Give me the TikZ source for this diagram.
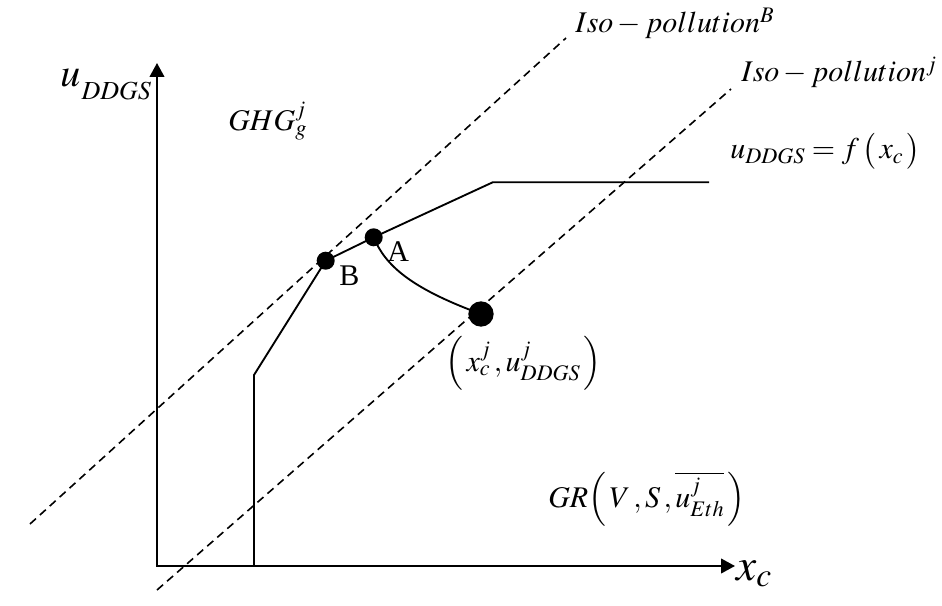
\documentclass[tikz,border=0pt]{standalone}
\usepackage{mathptmx}
\usepackage{fontspec}
\setmainfont{Liberation Serif}
\usetikzlibrary{arrows.meta}
\begin{document}
\begin{tikzpicture}[x=0.75pt,y=-0.75pt,
  axis/.style={line width=1.5pt,{Triangle[length=10.5pt,width=11pt]}-{Triangle[length=10.5pt,width=11pt]}},
  curve/.style={line width=1.4pt},
  iso/.style={line width=1.2pt,dash pattern=on 6pt off 4pt},
  dot/.style={circle,fill=black,inner sep=0pt,minimum size=#1},
  lbl/.style={inner sep=0pt,anchor=base west,font=\fontsize{22.5}{27}\selectfont},
  biglbl/.style={inner sep=0pt,anchor=base west,font=\fontsize{30}{35}\selectfont}]
\useasboundingbox (0,0) rectangle (942,606);
% axes
\coordinate (O) at (157,566);
\coordinate (Ytip) at (157,63);
\coordinate (Xtip) at (735,566);
\draw[axis] (Ytip) -- (O) -- (Xtip);
\node[biglbl] (ylab) at (60,87) {$u$\kern1pt\raisebox{-9.5pt}{\fontsize{19.5}{22}\selectfont$DDGS$}};
\node[biglbl,font=\fontsize{34}{38}\selectfont] (xlab) at (736,580) {$x_{c}$};
% iso-pollution lines
\coordinate (I1s) at (30,524);
\coordinate (I1e) at (566,38);
\coordinate (I2s) at (157,590);
\coordinate (I2e) at (731,89);
\draw[iso] (I1s) -- (I1e);
\draw[iso] (I2s) -- (I2e);
\node[lbl] (isoB) at (575,33) {$Iso - pollution^{B}$};
\node[lbl] (isoj) at (741,82) {$Iso - pollution^{j}$};
% frontier
\coordinate (K0) at (254,566);
\coordinate (K1) at (254,375);
\node[dot=13.5pt] (B) at (325.7,260.7) {};
\node[dot=13.5pt] (A) at (373.7,237.3) {};
\node[dot=19pt] (P) at (481,314) {};
\coordinate (K2) at (492.7,182.3);
\coordinate (K3) at (709,182.3);
\draw[curve] (K0) -- (K1) -- (B.center) -- (A.center) -- (K2) -- (K3);
\draw[curve] (A.center) .. controls (385,265) and (410,288) .. (P.center);
% labels
\node[lbl] (Alab) at (387,261.7) {A};
\node[lbl] (Blab) at (339,285) {B};
\node[lbl] (ghg) at (228,131) {$GHG_{g}^{j}$};
\node[lbl] (flab) at (730,159) {$u_{DDGS} = f\,\bigl(\,x_{c}\,\bigr)$};
\node[lbl] (plab) at (445,371) {$\Bigl(\,x_{c}^{j}\,,u_{DDGS}^{j}\,\Bigr)$};
\node[lbl] (gr) at (548,507) {$GR\Bigl(\,V\,,S\,,\overline{u_{Eth}^{j}}\,\Bigr)$};
\end{tikzpicture}
\end{document}
